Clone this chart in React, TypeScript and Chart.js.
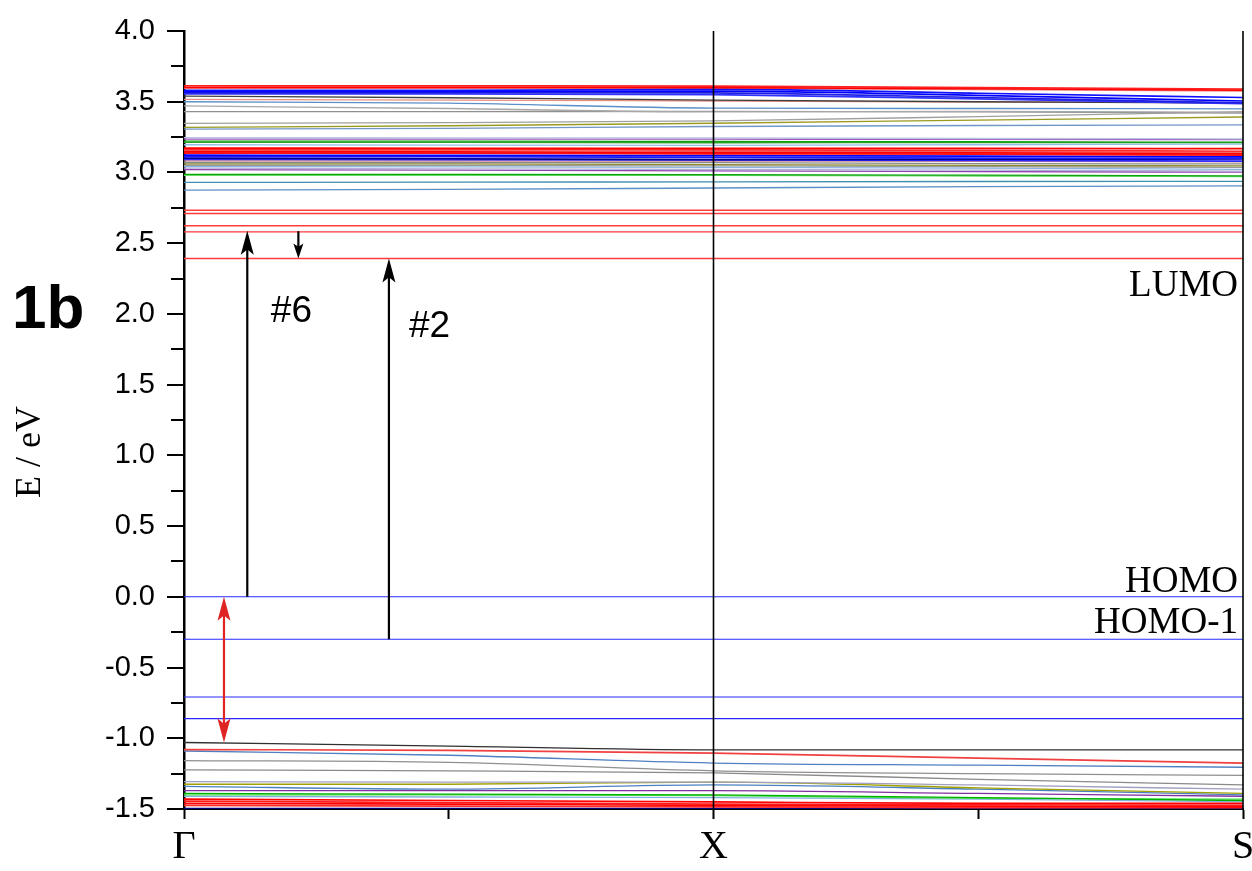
import React, { useEffect, useRef } from 'react';
import { Chart, registerables } from 'chart.js';

Chart.register(...registerables);

// k-path sample points (Γ → X → S)
const kPoints = [0, 0.5, 1, 1.5, 2];
const kTickLabels: Record<string, string> = { '0': 'Γ', '1': 'X', '2': 'S' };
const symmetryLines = [1, 2];

// Upper (unoccupied) cluster: energies at kPoints
const upperBands: number[][] = [
  [3.613, 3.612, 3.610, 3.600, 3.590],
  [3.602, 3.601, 3.600, 3.592, 3.582],
  [3.595, 3.594, 3.592, 3.585, 3.575],
  [3.580, 3.580, 3.588, 3.560, 3.530],
  [3.572, 3.573, 3.575, 3.545, 3.505],
  [3.564, 3.566, 3.562, 3.530, 3.492],
  [3.556, 3.556, 3.550, 3.520, 3.486],
  [3.540, 3.528, 3.512, 3.500, 3.490],
  [3.516, 3.512, 3.505, 3.498, 3.494],
  [3.500, 3.490, 3.455, 3.452, 3.450],
  [3.470, 3.452, 3.428, 3.432, 3.425],
  [3.430, 3.430, 3.432, 3.428, 3.420],
  [3.347, 3.352, 3.365, 3.395, 3.430],
  [3.318, 3.330, 3.348, 3.370, 3.392],
  [3.306, 3.312, 3.325, 3.332, 3.336],
  [3.246, 3.245, 3.244, 3.240, 3.238],
  [3.236, 3.236, 3.235, 3.234, 3.232],
  [3.222, 3.221, 3.219, 3.217, 3.214],
  [3.212, 3.212, 3.210, 3.211, 3.211],
  [3.196, 3.193, 3.192, 3.196, 3.200],
  [3.172, 3.171, 3.170, 3.170, 3.168],
  [3.162, 3.161, 3.160, 3.156, 3.150],
  [3.155, 3.152, 3.150, 3.148, 3.142],
  [3.146, 3.145, 3.141, 3.139, 3.132],
  [3.137, 3.136, 3.132, 3.130, 3.122],
  [3.122, 3.121, 3.119, 3.115, 3.110],
  [3.112, 3.111, 3.106, 3.101, 3.100],
  [3.101, 3.097, 3.091, 3.094, 3.095],
  [3.092, 3.091, 3.089, 3.085, 3.080],
  [3.082, 3.081, 3.080, 3.079, 3.075],
  [3.071, 3.070, 3.069, 3.062, 3.060],
  [3.061, 3.060, 3.055, 3.050, 3.046],
  [3.051, 3.050, 3.046, 3.041, 3.036],
  [3.041, 3.040, 3.036, 3.030, 3.022],
  [3.031, 3.026, 3.021, 3.016, 3.010],
  [3.020, 3.016, 3.011, 3.006, 3.002],
  [2.986, 2.986, 2.985, 2.981, 2.976],
  [2.980, 2.980, 2.979, 2.975, 2.970],
  [2.930, 2.931, 2.934, 2.936, 2.937],
  [2.875, 2.880, 2.890, 2.900, 2.905],
];
const upperColors = [
  '#ff2020', '#ff0000', '#f08080', '#1010ff', '#0000ff', '#2020e0', '#3030ff', '#404040',
  '#e89080', '#5b8fc7', '#a8a8a8', '#909090', '#a0a0a0', '#9a9a20', '#6f97c8', '#b8c4e0',
  '#a050c0', '#10a010', '#30a030', '#90bce8', '#ff0000', '#ff2a2a', '#f07070', '#ff0000',
  '#ff1010', '#0000ff', '#1a1aff', '#000090', '#2828ff', '#d08888', '#888888', '#8c8c30',
  '#999999', '#8ab4e0', '#b0b0d8', '#9040b0', '#10a010', '#60e060', '#3f8fb0', '#5b8fc7',
];

// Isolated flat levels
const gapLevels = [2.733, 2.710, 2.623, 2.580, 2.392];
const homoLevels = [0.0, -0.300, -0.708, -0.861];

// Lower (occupied) cluster
const lowerBands: number[][] = [
  [-1.030, -1.055, -1.082, -1.082, -1.082],
  [-1.080, -1.085, -1.105, -1.140, -1.175],
  [-1.090, -1.120, -1.175, -1.190, -1.205],
  [-1.158, -1.170, -1.230, -1.250, -1.262],
  [-1.224, -1.230, -1.245, -1.290, -1.330],
  [-1.307, -1.310, -1.310, -1.330, -1.360],
  [-1.325, -1.325, -1.310, -1.350, -1.390],
  [-1.340, -1.360, -1.330, -1.360, -1.400],
  [-1.370, -1.370, -1.370, -1.390, -1.410],
  [-1.390, -1.395, -1.400, -1.420, -1.440],
  [-1.400, -1.400, -1.405, -1.425, -1.430],
  [-1.410, -1.415, -1.420, -1.430, -1.450],
  [-1.430, -1.440, -1.450, -1.460, -1.460],
  [-1.445, -1.455, -1.465, -1.470, -1.475],
  [-1.460, -1.465, -1.475, -1.480, -1.485],
  [-1.475, -1.480, -1.485, -1.490, -1.490],
  [-1.497, -1.497, -1.497, -1.497, -1.497],
];
const lowerColors = [
  '#303030', '#f04040', '#5080c0', '#909090', '#8a8a8a', '#a0a0c0', '#a0a000', '#4a7fc0',
  '#8030a0', '#00b000', '#50e050', '#80b0e0', '#ff0000', '#ff1a1a', '#ff0000', '#ff2a2a',
  '#000080',
];

// Transition arrows
const arrowX = [0.1195, 0.216, 0.387, 0.0755];
const arrowFrom = [0.0, 2.585, -0.3, 0.0];
const arrowTo = [2.588, 2.392, 2.392, -1.03];
const arrowColors = ['#000000', '#000000', '#000000', '#e02424'];
const arrowDouble = [false, false, false, true];

// Text annotations
const transitionLabels = ['#6', '#2'];
const transitionLabelX = [0.164, 0.425];
const transitionLabelY = [1.943, 1.837];
const levelLabels = ['LUMO', 'HOMO', 'HOMO-1'];
const levelLabelY = [2.127, 0.034, -0.256];

const isStrong = (c: string) => /^#(ff|f0|e0)[0-4]/.test(c) || /^#[0-3][0-9a-f]{3}(ff|e0|90|80)$/.test(c);

function makeDataset(vals: number[], color: string, width: number, order: number) {
  return {
    data: kPoints.map((k, i) => ({ x: k, y: vals[i] })),
    borderColor: color,
    borderWidth: width,
    pointRadius: 0,
    cubicInterpolationMode: 'monotone' as const,
    order,
  };
}

function drawArrowHead(ctx: CanvasRenderingContext2D, x: number, yTip: number, dir: number, len: number, half: number) {
  // dir = -1 : tip points up, +1 : tip points down
  ctx.beginPath();
  ctx.moveTo(x, yTip);
  ctx.lineTo(x - half, yTip - dir * len);
  ctx.lineTo(x, yTip - dir * len * 0.78);
  ctx.lineTo(x + half, yTip - dir * len);
  ctx.closePath();
  ctx.fill();
}

const overlayPlugin = {
  id: 'overlay',
  afterDraw(chart: any) {
    const ctx: CanvasRenderingContext2D = chart.ctx;
    const xs = chart.scales.x;
    const ys = chart.scales.y;
    const area = chart.chartArea;
    ctx.save();

    // y-axis tick marks (major / minor)
    ctx.strokeStyle = '#000';
    ctx.lineWidth = 2;
    ys.ticks.forEach((t: any) => {
      const v = t.value;
      const py = Math.round(ys.getPixelForValue(v));
      const major = Math.abs(v * 2 - Math.round(v * 2)) < 1e-6;
      const len = major ? 17 : 13;
      ctx.beginPath();
      ctx.moveTo(area.left - len, py);
      ctx.lineTo(area.left, py);
      ctx.stroke();
    });

    // arrows
    arrowX.forEach((ax, i) => {
      const px = xs.getPixelForValue(ax);
      const y0 = ys.getPixelForValue(arrowFrom[i]);
      const y1 = ys.getPixelForValue(arrowTo[i]);
      const dir = y1 < y0 ? -1 : 1;
      const small = Math.abs(y1 - y0) < 60;
      const len = small ? 15 : 24;
      const half = small ? 5 : 6.5;
      ctx.strokeStyle = arrowColors[i];
      ctx.fillStyle = arrowColors[i];
      ctx.lineWidth = 2.2;
      ctx.beginPath();
      ctx.moveTo(px, arrowDouble[i] ? y0 + dir * len * 0.7 : y0);
      ctx.lineTo(px, y1 - dir * len * 0.7);
      ctx.stroke();
      drawArrowHead(ctx, px, y1, dir, len, half);
      if (arrowDouble[i]) drawArrowHead(ctx, px, y0, -dir, len, half);
    });

    // transition labels
    ctx.fillStyle = '#000';
    ctx.font = '37px "Liberation Sans", Arial, sans-serif';
    ctx.textAlign = 'left';
    ctx.textBaseline = 'alphabetic';
    transitionLabels.forEach((s, i) => {
      ctx.fillText(s, xs.getPixelForValue(transitionLabelX[i]), ys.getPixelForValue(transitionLabelY[i]));
    });

    // level labels
    ctx.font = '37px "Liberation Serif", "Times New Roman", serif';
    ctx.textAlign = 'right';
    levelLabels.forEach((s, i) => {
      ctx.fillText(s, area.right - 5, ys.getPixelForValue(levelLabelY[i]));
    });

    // y-axis title
    ctx.save();
    ctx.translate(31, 452);
    ctx.rotate(-Math.PI / 2);
    ctx.textAlign = 'center';
    ctx.textBaseline = 'middle';
    ctx.font = '36px "Liberation Serif", "Times New Roman", serif';
    ctx.fillText('E / eV', 0, 0);
    ctx.restore();

    // panel label
    ctx.font = 'bold 62px "Liberation Sans", Arial, sans-serif';
    ctx.textAlign = 'left';
    ctx.textBaseline = 'alphabetic';
    ctx.fillText('1b', 12, 328);

    ctx.restore();
  },
};

export default function App() {
  const canvasRef = useRef<HTMLCanvasElement | null>(null);

  useEffect(() => {
    document.body.style.margin = '0';
    const canvas = canvasRef.current;
    if (!canvas) return;

    const datasets: any[] = [];
    upperBands.forEach((b, i) => {
      const c = upperColors[i];
      datasets.push(makeDataset(b, c, isStrong(c) ? 1.7 : 1.3, isStrong(c) ? 1 : 2));
    });
    gapLevels.forEach((e) => datasets.push(makeDataset(kPoints.map(() => e), '#ff3b3b', 1.4, 1)));
    homoLevels.forEach((e) => datasets.push(makeDataset(kPoints.map(() => e), '#2a2aff', 1.1, 1)));
    lowerBands.forEach((b, i) => {
      const c = lowerColors[i];
      datasets.push(makeDataset(b, c, isStrong(c) ? 1.7 : 1.3, isStrong(c) ? 1 : 2));
    });
    symmetryLines.forEach((k) =>
      datasets.push({
        data: [{ x: k, y: -1.5 }, { x: k, y: 4.0 }],
        borderColor: '#000',
        borderWidth: 1.6,
        pointRadius: 0,
        clip: false,
        order: 0,
      })
    );

    const chart = new Chart(canvas, {
      type: 'line',
      data: { datasets },
      options: {
        responsive: false,
        devicePixelRatio: 1,
        animation: false,
        events: [],
        layout: { padding: { top: 31, right: 9, left: 0, bottom: 0 } },
        plugins: { legend: { display: false }, tooltip: { enabled: false } },
        scales: {
          x: {
            type: 'linear',
            min: 0,
            max: 2,
            afterFit: (s: any) => {
              s.height = 62;
              s.paddingLeft = 0;
              s.paddingRight = 0;
            },
            afterBuildTicks: (s: any) => {
              s.ticks = kPoints.map((k) => ({ value: k }));
            },
            ticks: {
              autoSkip: false,
              maxRotation: 0,
              padding: 4,
              color: '#000',
              font: { family: '"Liberation Serif", "Times New Roman", serif', size: 40 },
              callback: (v: any) => kTickLabels[String(v)] ?? '',
            },
            grid: {
              drawOnChartArea: false,
              drawTicks: true,
              tickLength: 10,
              tickWidth: 2,
              tickColor: '#000',
            },
            border: { display: true, color: '#000', width: 2 },
          },
          y: {
            type: 'linear',
            min: -1.5,
            max: 4.0,
            afterFit: (s: any) => {
              s.width = 184;
              s.paddingTop = 0;
              s.paddingBottom = 0;
            },
            ticks: {
              stepSize: 0.25,
              autoSkip: false,
              padding: 29,
              color: '#000',
              font: { family: '"Liberation Sans", Arial, sans-serif', size: 29 },
              callback: (v: any) => {
                const n = Number(v);
                return Math.abs(n * 2 - Math.round(n * 2)) < 1e-6 ? n.toFixed(1) : '';
              },
            },
            grid: { drawOnChartArea: false, drawTicks: false },
            border: { display: true, color: '#000', width: 2.5 },
          },
        },
      },
      plugins: [overlayPlugin],
    } as any);

    return () => chart.destroy();
  }, []);

  return (
    <div style={{ position: 'absolute', left: 0, top: 0, width: 1252, height: 871, background: '#fff' }}>
      <canvas ref={canvasRef} width={1252} height={871} style={{ width: 1252, height: 871, display: 'block' }} />
    </div>
  );
}
